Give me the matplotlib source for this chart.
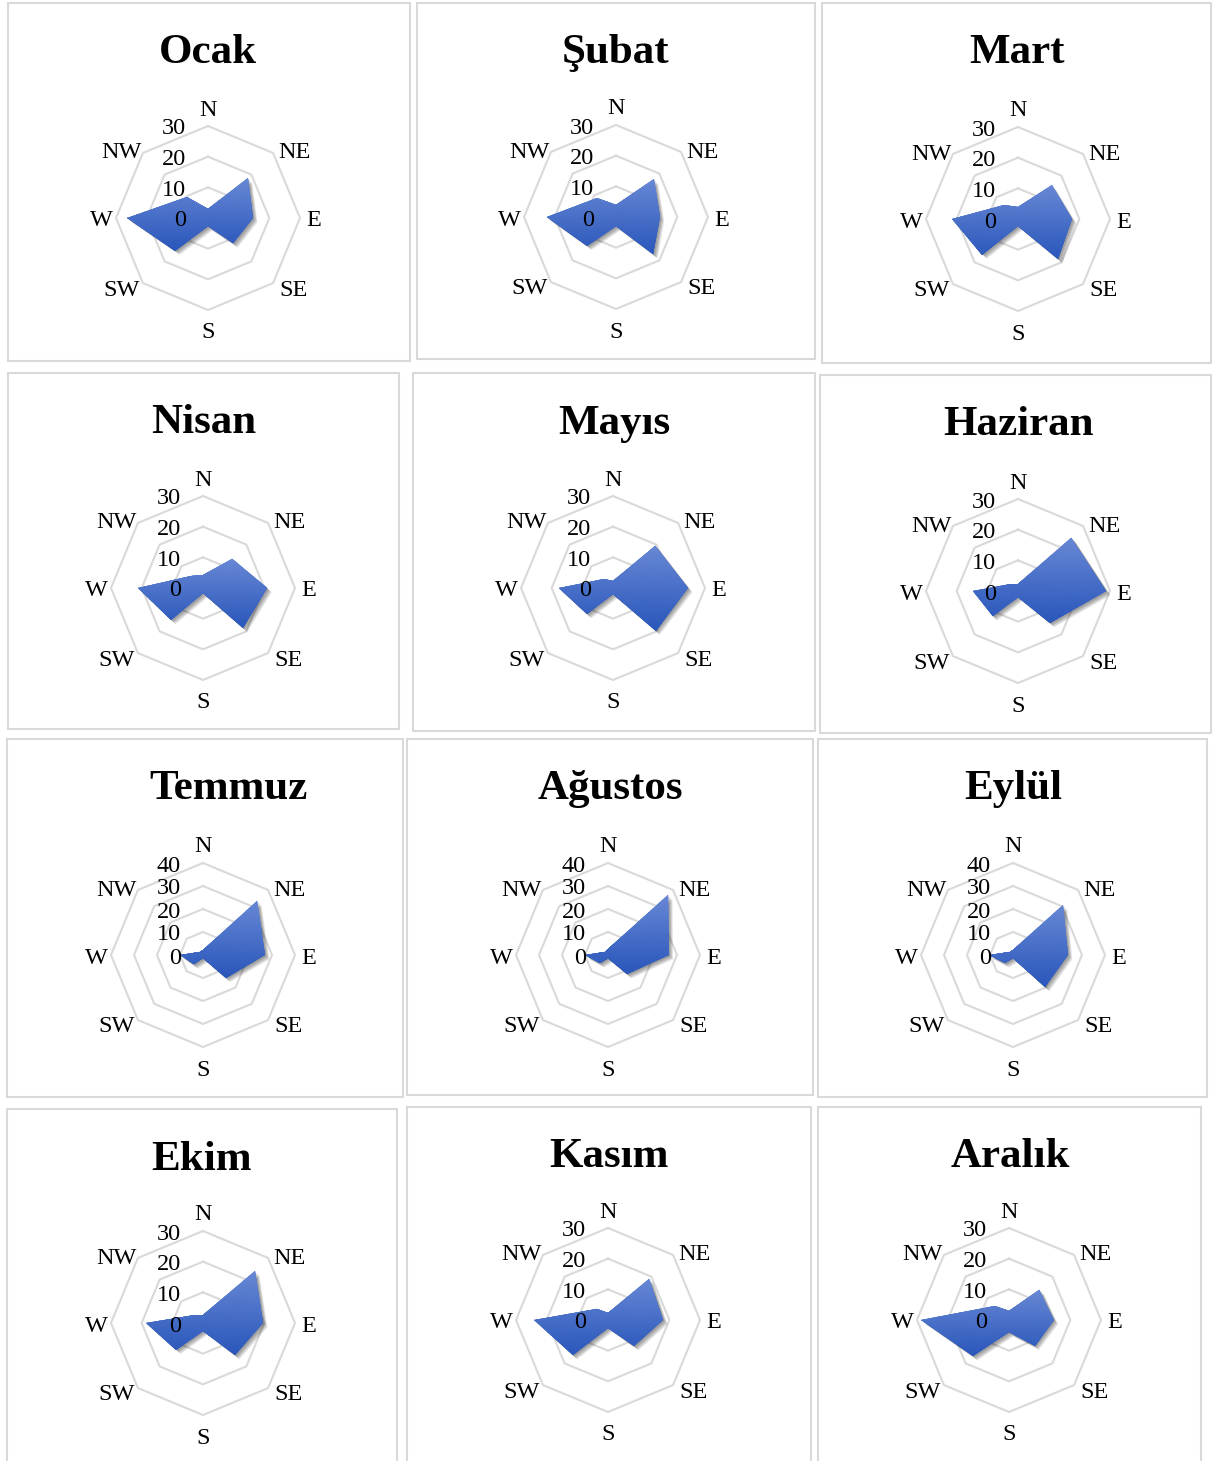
import numpy as np
import matplotlib
matplotlib.use('Agg')
import matplotlib.pyplot as plt
import matplotlib.patheffects as pe
from matplotlib.colors import LinearSegmentedColormap
from matplotlib.patches import Rectangle
from matplotlib.transforms import offset_copy

plt.rcParams['font.family'] = ['Liberation Serif', 'DejaVu Serif']

directions = ['N', 'NE', 'E', 'SE', 'S', 'SW', 'W', 'NW']
months = ['Ocak', 'Şubat', 'Mart', 'Nisan', 'Mayıs', 'Haziran',
          'Temmuz', 'Ağustos', 'Eylül', 'Ekim', 'Kasım', 'Aralık']

# wind direction frequency (%) per month, order N..NW
ocak = [3.0, 18.4, 14.7, 11.7, 2.7, 15.0, 26.3, 9.7]
subat = [4.0, 17.4, 14.3, 17.2, 3.0, 13.2, 22.6, 8.7]
mart = [3.8, 15.5, 17.6, 18.5, 2.3, 16.4, 21.5, 6.3]
nisan = [4.2, 13.5, 21.0, 18.4, 1.7, 14.7, 21.2, 5.5]
mayis = [2.2, 19.5, 24.5, 19.6, 2.0, 12.0, 17.7, 4.0]
haziran = [2.2, 24.6, 28.8, 14.7, 2.0, 11.7, 14.7, 3.0]
temmuz = [2.0, 33.3, 27.0, 14.0, 1.4, 5.8, 9.8, 2.0]
agustos = [2.5, 37.0, 26.4, 11.7, 1.4, 5.0, 10.0, 2.0]
eylul = [2.0, 30.7, 23.9, 19.7, 1.4, 5.0, 10.4, 2.0]
ekim = [2.5, 24.0, 19.6, 14.8, 2.5, 12.3, 18.5, 3.7]
kasim = [2.2, 19.0, 18.0, 12.0, 2.5, 16.2, 24.0, 5.2]
aralik = [3.0, 14.0, 14.6, 11.8, 4.0, 16.6, 28.6, 6.5]

freq = [ocak, subat, mart, nisan, mayis, haziran,
        temmuz, agustos, eylul, ekim, kasim, aralik]
ring_max = [30, 30, 30, 30, 30, 30, 40, 40, 40, 30, 30, 30]

W, H = 1213, 1461
fig = plt.figure(figsize=(W / 100, H / 100), dpi=100)

# layout in pixels
frames = [(8, 3, 410, 361), (417, 3, 815, 359), (822, 3, 1211, 363),
          (8, 373, 399, 729), (413, 373, 815, 731), (820, 375, 1211, 733),
          (7, 739, 403, 1097), (407, 739, 813, 1095), (818, 739, 1207, 1097),
          (7, 1109, 397, 1470), (407, 1107, 811, 1470), (818, 1107, 1201, 1470)]
centers = [(208, 218), (616, 217), (1018, 219),
           (203, 588), (613, 588), (1018, 591),
           (203, 955), (608, 955), (1013, 955),
           (203, 1323), (608, 1320), (1009, 1320)]
title_pos = [(208, 53), (616, 53), (1017, 53),
             (204, 423), (614, 424), (1019, 425),
             (228, 789), (610, 789), (1013, 789),
             (201, 1160), (609, 1157), (1010, 1157)]
label_off = [(0, 108), (86, 65), (106, -3), (86, -72),
             (0, -115), (-86, -72), (-107, -3), (-87, 65)]
R = 92

fill_cmap = LinearSegmentedColormap.from_list('fill', ['#2a57bb', '#6888d5'])
angles = np.arange(8) * np.pi / 4
closed = np.append(angles, angles[0])

for i, vals in enumerate(freq):
    x0, y0, x1, y1 = frames[i]
    fig.patches.append(Rectangle((x0 / W, 1 - y1 / H), (x1 - x0) / W, (y1 - y0) / H,
                                 transform=fig.transFigure, fill=False,
                                 ec='#d9d9d9', lw=1.5))
    tx, ty = title_pos[i]
    fig.text(tx / W, 1 - ty / H, months[i], ha='center', va='center',
             fontsize=31, fontweight='bold')

    cx, cy = centers[i]
    rmax = ring_max[i]
    ax = fig.add_axes([(cx - R) / W, 1 - (cy + R) / H, 2 * R / W, 2 * R / H],
                      projection='polar')
    ax.set_theta_zero_location('N')
    ax.set_theta_direction(-1)

    # octagonal grid rings
    for r in range(10, rmax + 1, 10):
        ax.plot(closed, [r] * 9, color='#d9d9d9', lw=1.5, clip_on=False, zorder=1)

    shadow = [pe.SimplePatchShadow(offset=(o, -o), shadow_rgbFace='k', alpha=0.11)
              for o in (1, 1.7, 2.4, 3.1)]
    poly = ax.fill(angles, vals, color='#3f69c6', lw=0, zorder=2,
                   path_effects=shadow + [pe.Normal()])[0]

    # vertical gradient inside the polygon
    v = np.array(vals)
    ys = v * np.cos(angles)
    T, Rg = np.meshgrid(np.linspace(0, 2 * np.pi, 121), np.linspace(0, rmax, 41))
    mesh = ax.pcolormesh(T, Rg, Rg * np.cos(T), cmap=fill_cmap, shading='gouraud',
                         vmin=ys.min(), vmax=ys.max(), zorder=3)
    mesh.set_clip_path(poly)

    ax.set_ylim(0, rmax)
    ax.axis('off')

    tick_tf = offset_copy(ax.transData, fig=fig, x=-22, y=-3, units='dots')
    for r in range(0, rmax + 1, 10):
        ax.text(0, r, str(r), transform=tick_tf, ha='right', va='center',
                fontsize=17.5, zorder=4)

    for d, (dx, dy) in zip(directions, label_off):
        ax.annotate(d, xy=(0, 0), xytext=(dx, dy), textcoords='offset pixels',
                    ha='center', va='center', fontsize=17.5, annotation_clip=False)

fig.savefig('out.png', dpi=100)
